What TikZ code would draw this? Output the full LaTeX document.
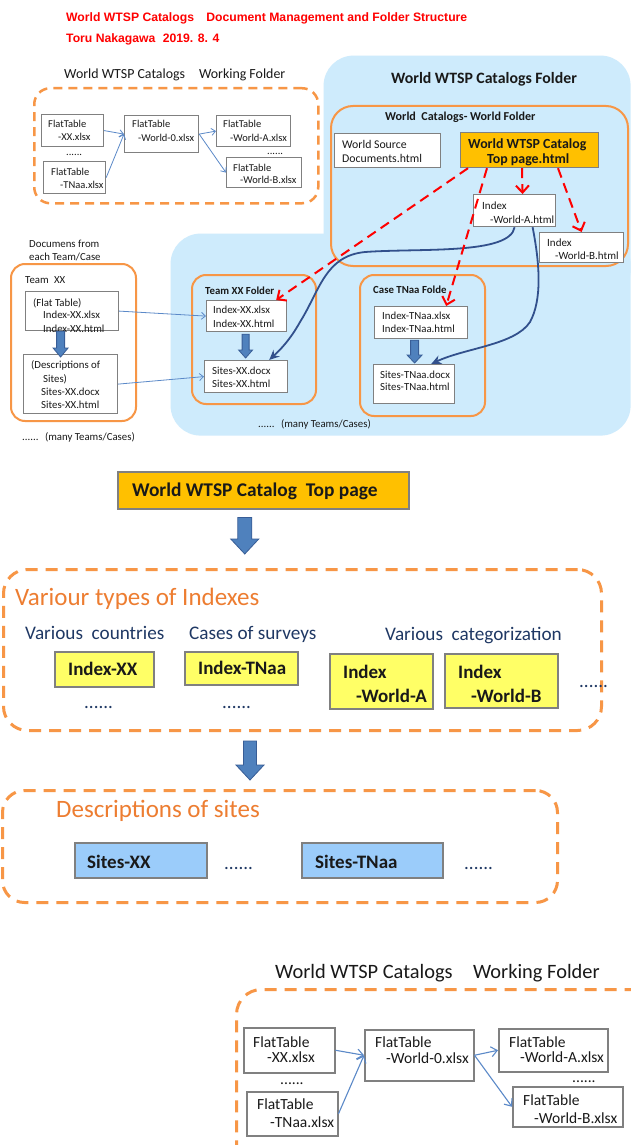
\documentclass[tikz,border=0pt]{standalone}
\usepackage{fontspec}
\setmainfont{Carlito}
\newfontfamily\titlefont{Liberation Sans}
\usetikzlibrary{arrows.meta,calc}
\definecolor{orn}{RGB}{247,150,70}
\definecolor{skyb}{RGB}{206,235,252}
\definecolor{gold}{RGB}{255,192,0}
\definecolor{yel}{RGB}{255,255,102}
\definecolor{sitesb}{RGB}{155,204,250}
\definecolor{navy}{RGB}{50,80,140}
\definecolor{thinb}{RGB}{91,137,200}
\definecolor{labnavy}{RGB}{31,56,100}
\definecolor{boxgray}{RGB}{128,128,128}
\definecolor{headorn}{RGB}{237,125,49}
\definecolor{barfill}{RGB}{79,129,189}
\definecolor{barline}{RGB}{56,93,150}
\definecolor{txtc}{RGB}{25,25,25}
\tikzset{
  filebox/.style={draw=boxgray,line width=1.2pt,fill=white,rectangle,inner sep=0pt},
  grp/.style={draw=orn,line width=2pt,fill=none,rounded corners=14pt},
  grpd/.style={draw=orn,line width=2.5pt,fill=none,rounded corners=16pt,dash pattern=on 9pt off 6pt},
  grpD/.style={draw=orn,line width=3pt,fill=none,rounded corners=24pt,dash pattern=on 12pt off 8pt},
  ybox/.style={fill=yel,line width=1.5pt},
  sbox/.style={fill=sitesb,line width=1.5pt},
  fsz/.style={font=\fontsize{#1}{#1}\selectfont,text=txtc},
  fszb/.style={font=\bfseries\fontsize{#1}{#1}\selectfont,text=txtc},
  title/.style={font=\titlefont\bfseries\fontsize{12.2}{12.2}\selectfont,text=red},
  thinarrow/.style={draw=thinb,line width=0.8pt,-{Straight Barb[length=4pt,width=7pt]}},
  thinarrowB/.style={draw=thinb,line width=1.1pt,-{Straight Barb[length=6pt,width=10pt]}},
  redarrow/.style={draw=red,line width=2pt,dash pattern=on 10pt off 6pt,-{Straight Barb[length=7pt,width=13pt]}},
  navyc/.style={draw=navy,line width=1.8pt,-{Stealth[length=10pt,width=9pt]}},
  barrow/.style={fill=barfill,draw=barline,line width=0.8pt}
}
\newcommand\Bx[6][]{\node[filebox,#1,anchor=north west,minimum width={(#5-#3)*1pt},minimum height={(#6-#4)*1pt}] (#2) at (#3,#4) {};}
\newcommand\T[4]{\node[#1,anchor=base west,inner sep=0pt] (#2) at (#3) {#4};}
\newcommand\Barrow[5]{\path[barrow] let \p1=(#1), \p2=(#2) in (\x1-#3pt,\y1) -- (\x1+#3pt,\y1) -- (\x1+#3pt,\y2+#5pt) -- (\x1+#4pt,\y2+#5pt) -- (\x1,\y2) -- (\x1-#4pt,\y2+#5pt) -- (\x1-#3pt,\y2+#5pt) -- cycle;}
\begin{document}
\begin{tikzpicture}[x=1pt,y=-1pt]
\useasboundingbox (0,0) rectangle (630,1145);
\fill[white] (0,0) rectangle (630,1145);
% title
\T{title}{ti1}{66,22}{World WTSP Catalogs\hspace{1em}Document Management and Folder Structure}
\T{title}{ti2}{66,43}{Toru Nakagawa\hspace{0.6em}2019. 8. 4}
% ---- working folder (top)
\T{fsz=13.9}{w1lab}{64,79}{World WTSP Catalogs\hspace{1em}Working Folder}
\Bx[grpd]{w1}{33}{87}{317}{202}
\Bx{a1}{41}{114}{103}{146}
\Bx{a2}{43}{161}{105}{193}
\Bx{a3}{124}{115}{198}{152}
\Bx{a4}{216}{115}{290}{146}
\Bx{a5}{226}{157}{301}{187}
\T{fsz=10.5}{a1t1}{48,128}{FlatTable}
\T{fsz=10.5}{a1t2}{58,140}{-XX.xlsx}
\T{fsz=10.5}{a2t1}{51,175}{FlatTable}
\T{fsz=10.5}{a2t2}{60,188}{-TNaa.xlsx}
\T{fsz=10.5}{a3t1}{132,128}{FlatTable}
\T{fsz=10.5}{a3t2}{138,142}{-World-0.xlsx}
\T{fsz=10.5}{a4t1}{223,128}{FlatTable}
\T{fsz=10.5}{a4t2}{230,141}{-World-A.xlsx}
\T{fsz=10.5}{a5t1}{233,171}{FlatTable}
\T{fsz=10.5}{a5t2}{240,183}{-World-B.xlsx}
\T{fsz=10.5}{a1d}{66,155}{......}
\T{fsz=10.5}{a4d}{267,154}{......}
\draw[thinarrow] (a1.east) -- (a3.west);
\draw[thinarrow] (a2.east) -- (a3.west);
\draw[thinarrow] (a3.east) -- (a4.west);
\draw[thinarrow] (a3.east) -- (a5.west);
% ---- blue catalogs area
\Bx[draw=none,fill=skyb,rounded corners=30pt]{blA}{323}{55}{630}{300}
\Bx[draw=none,fill=skyb,rounded corners=30pt]{blB}{170}{233}{630}{435}
\T{fszb=15.8}{wft}{391,84}{World WTSP Catalogs Folder}
\Bx[grp,rounded corners=22pt]{wf}{330}{105}{627}{265}
\T{fszb=12.1}{wft2}{385,121}{World\hspace{0.45em}Catalogs- World Folder}
\Bx{ws}{334}{133}{440}{167}
\T{fsz=11.8}{wst1}{342,148}{World Source}
\T{fsz=11.8}{wst2}{342,162}{Documents.html}
\Bx[fill=gold]{tp}{460}{132}{598}{167}
\T{fszb=13.9}{tpt1}{468,149}{World WTSP Catalog}
\T{fszb=13.9}{tpt2}{487,163}{Top page.html}
\Bx{ia}{473}{194}{555}{226}
\T{fsz=11}{iat1}{482,209}{Index}
\T{fsz=11}{iat2}{490,223}{-World-A.html}
\Bx{ib}{539}{232}{623}{262}
\T{fsz=11}{ibt1}{547,246}{Index}
\T{fsz=11}{ibt2}{555,259}{-World-B.html}
% ---- team XX (outside)
\T{fsz=10.8}{doc1}{29,247}{Documens from}
\T{fsz=10.8}{doc2}{29,260}{each Team/Case}
\Bx[grp]{tl}{10}{263}{135}{420}
\T{fsz=10.8}{tlt}{25,283}{Team\hspace{0.5em}XX}
\Bx{ft}{25}{291}{118}{330}
\T{fsz=10.8}{ftt1}{33,306}{(Flat Table)}
\T{fsz=10.8}{ftt2}{43,318}{Index-XX.xlsx}
\T{fsz=10.8}{ftt3}{43,332}{Index-XX.html}
\Bx{ds}{23}{354}{117}{413}
\T{fsz=10.8}{dst1}{31,368}{(Descriptions of}
\T{fsz=10.8}{dst2}{43,382}{Sites)}
\T{fsz=10.8}{dst3}{41,395}{Sites-XX.docx}
\T{fsz=10.8}{dst4}{41,408}{Sites-XX.html}
\T{fsz=10.8}{many1}{22,440}{......\hspace{0.6em}(many Teams/Cases)}
% ---- team XX folder
\Bx[grp]{tf}{191}{274}{315}{403}
\T{fszb=10.8}{tft}{205,294}{Team XX Folder}
\Bx{ix}{206}{300}{286}{331}
\T{fsz=10.8}{ixt1}{213,313}{Index-XX.xlsx}
\T{fsz=10.8}{ixt2}{213,327}{Index-XX.html}
\Bx{sx}{204}{360}{287}{392}
\T{fsz=10.8}{sxt1}{212,374}{Sites-XX.docx}
\T{fsz=10.8}{sxt2}{212,387}{Sites-XX.html}
% ---- case TNaa folder
\Bx[grp]{cf}{359}{274}{484}{415}
\T{fszb=10.8}{cft}{373,293}{Case TNaa Folde}
\Bx{it}{374}{306}{467}{338}
\T{fsz=10.8}{itt1}{382,319}{Index-TNaa.xlsx}
\T{fsz=10.8}{itt2}{382,332}{Index-TNaa.html}
\Bx{st}{373}{364}{454}{403}
\T{fsz=10.8}{stt1}{380,378}{Sites-TNaa.docx}
\T{fsz=10.8}{stt2}{380,390}{Sites-TNaa.html}
\T{fsz=10.8}{many2}{258,427}{......\hspace{0.6em}(many Teams/Cases)}
% ---- connectors (top)
\Barrow{[xshift=-11.5pt]ft.south}{[yshift=-3pt]ds.north}{4}{7.5}{9}
\Barrow{[xshift=-1pt,yshift=-2pt]ix.south}{[yshift=2pt]sx.north}{3.5}{7}{8}
\Barrow{[xshift=-6.5pt,yshift=-1pt]it.south}{[yshift=1pt]st.north}{4}{7.5}{8}
\draw[thinarrow] (ft.east) -- (ix.west);
\draw[thinarrow] (ds.east) -- (sx.west);
\draw[navyc] (ia.south) .. controls (510,255) and (420,248) .. (365,252) .. controls (325,256) and (320,290) .. (300,322) .. controls (290,340) and (280,350) .. ([xshift=-19pt]sx.north east);
\draw[navyc] ([xshift=18pt]ia.south) .. controls (540,265) and (542,300) .. (530,322) .. controls (515,345) and (465,348) .. ([xshift=-24pt]st.north east);
\draw[redarrow] ([xshift=8pt]tp.south west) -- ([xshift=-11pt]ix.north east);
\draw[redarrow] ([xshift=27pt]tp.south west) -- ([xshift=-22pt]it.north east);
\draw[redarrow] ([xshift=62pt]tp.south west) -- ([xshift=8pt]ia.north);
\draw[redarrow] ([xshift=98pt]tp.south west) -- (ib.north);
% ---- middle: top page, indexes, sites
\Bx[fill=gold,line width=1.5pt]{tp2}{117}{471}{408}{508}
\T{fszb=19.4}{tp2t}{132,496}{World WTSP Catalog\hspace{0.45em}Top page}
\Bx[grpD]{idx}{2}{568}{600}{729}
\Barrow{[xshift=-18.5pt,yshift=-8pt]tp2.south}{[yshift=14pt]idx.north}{7}{14}{15}
\T{fsz=25,text=headorn}{idxh}{15,605}{Variour types of Indexes}
\T{fsz=19.2,text=labnavy}{cat1}{25,639}{Various\hspace{0.45em}countries}
\T{fsz=19.2,text=labnavy}{cat2}{189,639}{Cases of surveys}
\T{fsz=19.2,text=labnavy}{cat3}{385,640}{Various\hspace{0.45em}categorization}
\Bx[ybox]{ixx}{54}{651}{153}{686}
\T{fszb=19}{ixxt}{68,675}{Index-XX}
\Bx[ybox]{itn}{184}{651}{297}{684}
\T{fszb=19}{itnt}{198,674}{Index-TNaa}
\Bx[ybox]{iwa}{329}{653}{432}{708}
\T{fszb=19}{iwat1}{343,678}{Index}
\T{fszb=19}{iwat2}{356,702}{-World-A}
\Bx[ybox]{iwb}{444}{653}{557}{707}
\T{fszb=19}{iwbt1}{458,678}{Index}
\T{fszb=19}{iwbt2}{471,702}{-World-B}
\T{fsz=19,text=labnavy}{d1}{84,708}{......}
\T{fsz=19,text=labnavy}{d2}{222,708}{......}
\T{fsz=19,text=labnavy}{d3}{579,687}{......}
\Bx[grpD,rounded corners=22pt]{sit}{1}{789}{556}{901}
\Barrow{[xshift=-52.5pt,yshift=-9pt]idx.south}{[yshift=9pt]sit.north}{6.5}{14}{15}
\T{fsz=25,text=headorn}{sith}{56,817}{Descriptions of sites}
\Bx[sbox]{sx2}{74}{842}{206}{877}
\T{fszb=19}{sx2t}{87,868}{Sites-XX}
\T{fsz=19,text=labnavy}{d4}{224,869}{......}
\Bx[sbox]{st2}{301}{842}{442}{877}
\T{fszb=19}{st2t}{315,868}{Sites-TNaa}
\T{fsz=19,text=labnavy}{d5}{464,869}{......}
% ---- working folder (bottom)
\T{fsz=20.4}{w2lab}{275,978}{World WTSP Catalogs\hspace{1em}Working Folder}
\Bx[grpD,rounded corners=25pt]{w2}{235}{988}{660}{1170}
\Bx[line width=1.5pt]{b1}{243}{1027}{334}{1072}
\Bx[line width=1.5pt]{b2}{246}{1091}{337}{1135}
\Bx[line width=1.5pt]{b3}{364}{1029}{473}{1080}
\Bx[line width=1.5pt]{b4}{498}{1028}{607}{1071}
\Bx[line width=1.5pt]{b5}{512}{1086}{622}{1126}
\T{fsz=15.5}{b1t1}{253,1047}{FlatTable}
\T{fsz=15.5}{b1t2}{267,1062}{-XX.xlsx}
\T{fsz=15.5}{b2t1}{257,1109}{FlatTable}
\T{fsz=15.5}{b2t2}{270,1127}{-TNaa.xlsx}
\T{fsz=15.5}{b3t1}{375,1047}{FlatTable}
\T{fsz=15.5}{b3t2}{386,1063}{-World-0.xlsx}
\T{fsz=15.5}{b4t1}{509,1047}{FlatTable}
\T{fsz=15.5}{b4t2}{520,1062}{-World-A.xlsx}
\T{fsz=15.5}{b5t1}{523,1105}{FlatTable}
\T{fsz=15.5}{b5t2}{534,1123}{-World-B.xlsx}
\T{fsz=15.5}{b1d}{280,1084}{......}
\T{fsz=15.5}{b4d}{572,1082}{......}
\draw[thinarrowB] (b1.east) -- (b3.west);
\draw[thinarrowB] (b2.east) -- (b3.west);
\draw[thinarrowB] (b3.east) -- (b4.west);
\draw[thinarrowB] (b3.east) -- (b5.west);
\end{tikzpicture}
\end{document}
